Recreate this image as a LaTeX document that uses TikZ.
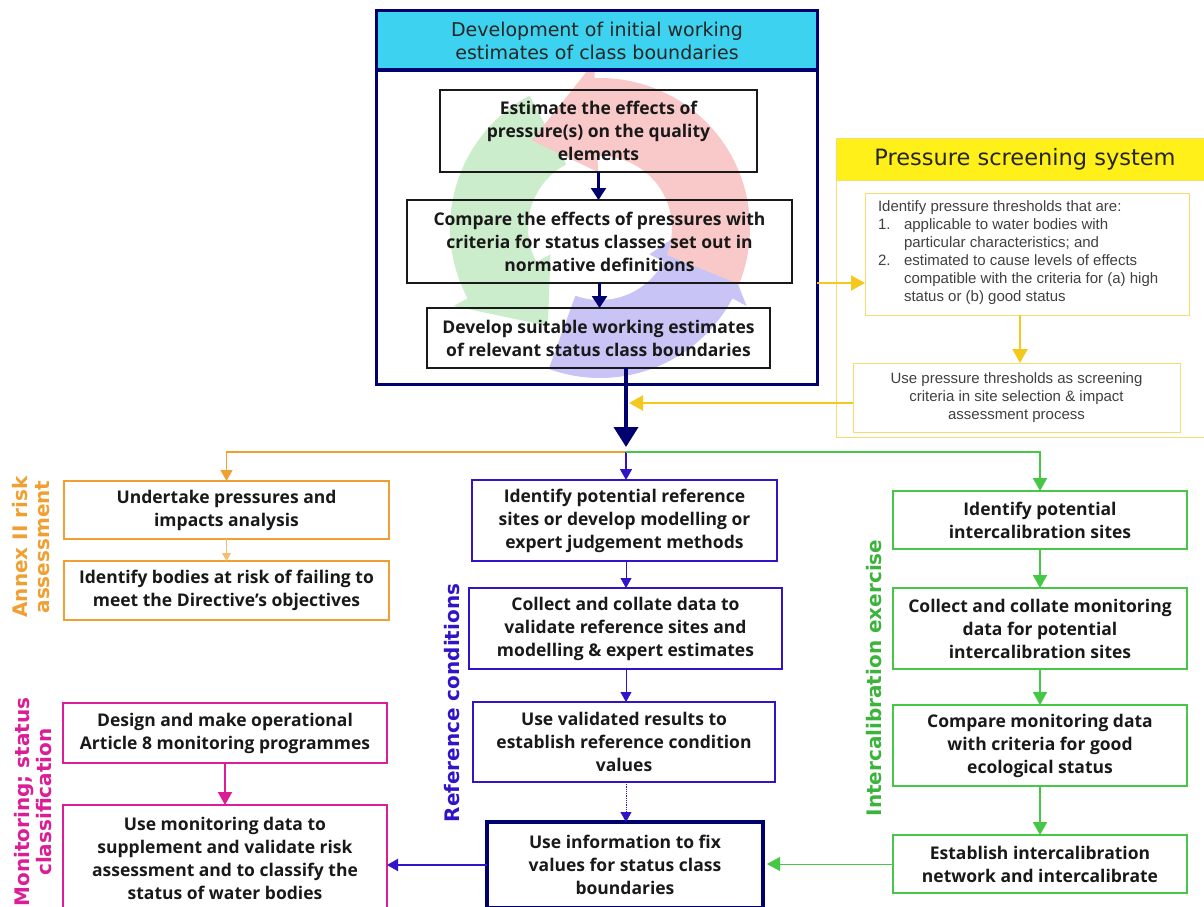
\documentclass[tikz,border=0pt]{standalone}
\usepackage{fontspec}
\setmainfont{Open Sans}
\newfontfamily\verdfont{DejaVu Sans}
\newfontfamily\arfont{Liberation Sans}
\usetikzlibrary{arrows.meta,calc}

\definecolor{navy}{RGB}{0,0,110}
\definecolor{hdrcyan}{RGB}{60,210,240}
\definecolor{hdryellow}{RGB}{255,240,25}
\definecolor{ylight}{RGB}{245,220,110}
\definecolor{yarrowc}{RGB}{245,200,30}
\definecolor{annexc}{RGB}{240,160,50}
\definecolor{refc}{RGB}{50,20,200}
\definecolor{greenc}{RGB}{70,200,70}
\definecolor{greenlab}{RGB}{60,180,60}
\definecolor{magc}{RGB}{220,30,150}
\definecolor{ringred}{RGB}{249,200,200}
\definecolor{ringgreen}{RGB}{204,237,204}
\definecolor{ringpurple}{RGB}{200,196,246}

% box given by its corners: style, name, x1, y1, x2, y2, text
\newcommand\rbox[7]{\node[#1, minimum width={(#5-#3)*1pt}, minimum height={(#6-#4)*1pt}] (#2) at ({(#3+#5)/2},{(#4+#6)/2}) {#7};}

% one arrow of the background cycle: colour, tail angle, head base angle, tip angle
\newcommand\ringarrow[4]{%
  \fill[#1] plot[domain=#2:#3, samples=40] ({600+150*cos(\x)},{228+150*sin(\x)})
    -- ({600+166*cos(#3)},{228+166*sin(#3)})
    -- ({600+111*cos(#4)},{228+111*sin(#4)})
    -- ({600+56*cos(#3)},{228+56*sin(#3)})
    -- plot[domain=#3:#2, samples=40] ({600+72*cos(\x)},{228+72*sin(\x)}) -- cycle;}

\begin{document}
\begin{tikzpicture}[x=1pt,y=-1pt,
  every node/.style={inner sep=0pt, outer sep=0pt},
  btext/.style={align=center, font=\fontsize{17.5}{23}\selectfont\bfseries, text=black!90},
  innerbox/.style={btext, draw=black!90, line width=2.2pt},
  annexbox/.style={btext, draw=annexc, line width=2pt},
  refbox/.style={btext, draw=refc, line width=2pt},
  greenbox/.style={btext, draw=greenc, line width=2pt},
  magbox/.style={btext, draw=magc, line width=2pt},
  finalbox/.style={btext, draw=navy, line width=4pt},
  ybox/.style={draw=ylight, line width=1pt},
  stext/.style={font=\arfont\fontsize{15}{18}\selectfont, text=black!75},
  sidelabel/.style={align=center, rotate=90, font=\verdfont\fontsize{20}{22}\selectfont\bfseries},
  navyarrow/.style={draw=navy, line width=2.4pt, -{Triangle[width=15pt,length=12pt]}},
  bignavy/.style={draw=navy, line width=4pt, -{Triangle[width=24pt,length=20pt]}},
  yarrow/.style={draw=yarrowc, line width=2pt, -{Triangle[width=15pt,length=14pt]}},
  annexarrow/.style={draw=annexc, line width=1.6pt, -{Triangle[width=12pt,length=11pt]}},
  thinannex/.style={draw=annexc!70, line width=1pt, -{Triangle[width=9pt,length=8pt]}},
  refarrow/.style={draw=refc, line width=1.6pt, -{Triangle[width=12pt,length=11pt]}},
  thinref/.style={draw=refc, line width=0.8pt, -{Triangle[width=11pt,length=10pt]}},
  greenarrow/.style={draw=greenc, line width=2pt, -{Triangle[width=14pt,length=13pt]}},
  magarrow/.style={draw=magc, line width=2pt, -{Triangle[width=14pt,length=13pt]}},
]
\useasboundingbox (0,0) rectangle (1204,907);

% background cycle behind the estimation steps
\ringarrow{ringpurple}{110}{28}{-8}
\ringarrow{ringgreen}{242}{152}{118}
\ringarrow{ringred}{22}{-92}{-128}

% development of working estimates
\rbox{fill=hdrcyan, draw=navy, line width=3pt}{mainhdr}{376}{11}{817}{70}{}
\rbox{draw=navy, line width=3pt}{main}{376}{11}{817}{384}{}
\node[align=center, font=\verdfont\fontsize{19}{23.5}\selectfont, text=black!85] (maintitle) at (597,41)
  {Development of initial working\\estimates of class boundaries};
\rbox{innerbox}{b1}{440}{90}{757}{172}{Estimate the effects of\\pressure(s) on the quality\\elements}
\rbox{innerbox}{b2}{407}{200}{792}{283}{Compare the effects of pressures with\\criteria for status classes set out in\\normative definitions}
\rbox{innerbox}{b3}{427}{308}{770}{368}{Develop suitable working estimates\\of relevant status class boundaries}
\draw[navyarrow] (b1.south) -- (b1.south |- b2.north);
\draw[navyarrow] (b2.south) -- (b2.south |- b3.north);

% pressure screening system
\rbox{fill=hdryellow, draw=ylight, line width=1pt}{psyshdr}{836}{138}{1206}{180}{}
\rbox{ybox}{psys}{836}{138}{1206}{437}{}
\node[font=\verdfont\fontsize{22.5}{25}\selectfont, text=black!85] (psystitle) at (1025,159) {Pressure screening system};
\rbox{ybox}{p1}{865}{193}{1189}{315}{}
\node[stext, anchor=north west, align=left] (p1text) at (878,201)
  {Identify pressure thresholds that are:\\
   \makebox[26pt][l]{1.}applicable to water bodies with\\
   \hspace*{26pt}particular characteristics; and\\
   \makebox[26pt][l]{2.}estimated to cause levels of effects\\
   \hspace*{26pt}compatible with the criteria for (a) high\\
   \hspace*{26pt}status or (b) good status};
\rbox{ybox, stext, align=center}{p2}{853}{363}{1180}{432}
  {Use pressure thresholds as screening\\criteria in site selection \& impact\\assessment process}
\coordinate (ya) at (0,283);
\coordinate (yb) at (0,403);
\coordinate (pcol) at (1020,0);
\draw[yarrow] (main.east |- ya) -- (p1.west |- ya);
\draw[yarrow] (pcol |- p1.south) -- (pcol |- p2.north);

% hand-over to the three work streams
\coordinate (split) at (626,452);
\coordinate (navyend) at (626,447);
\draw[bignavy] (b3.south -| split) -- (navyend);
\draw[yarrow, shorten >=3pt] (p2.west |- yb) -- (split |- yb);

% Annex II risk assessment
\rbox{annexbox}{a1}{64}{481}{389}{539}{Undertake pressures and\\impacts analysis}
\rbox{annexbox}{a2}{64}{561}{389}{620}{Identify bodies at risk of failing to\\meet the Directive’s objectives}
\draw[annexarrow] (split) -| (a1.north);
\draw[thinannex] (a1.south) -- (a2.north);
\node[sidelabel, text=annexc] (lannex) at (31,547) {Annex II risk\\assessment};

% monitoring and status classification
\rbox{magbox}{m1}{63}{703}{387}{763}{Design and make operational\\Article 8 monitoring programmes}
\rbox{magbox}{m2}{63}{805}{387}{912}{Use monitoring data to\\supplement and validate risk\\assessment and to classify the\\status of water bodies}
\draw[magarrow] (m1.south) -- (m2.north);
\node[sidelabel, text=magc] (lmon) at (33,802) {Monitoring; status\\classification};

% reference conditions
\rbox{refbox}{r1}{472}{480}{777}{561}{Identify potential reference\\sites or develop modelling or\\expert judgement methods}
\rbox{refbox}{r2}{469}{588}{782}{669}{Collect and collate data to\\validate reference sites and\\modelling \& expert estimates}
\rbox{refbox}{r3}{473}{702}{775}{782}{Use validated results to\\establish reference condition\\values}
\rbox{finalbox}{fin}{487}{822}{763}{908}{Use information to fix\\values for status class\\boundaries}
\draw[refarrow] (split) -- (split |- r1.north);
\draw[thinref] (split |- r1.south) -- (split |- r2.north);
\draw[thinref] (split |- r2.south) -- (split |- r3.north);
\draw[thinref, densely dotted, -{Triangle[width=11pt,length=10pt]}] (split |- r3.south) -- (split |- fin.north);
\draw[refarrow, line width=2pt] (fin.west) -- (m2.east |- fin.west);
\node[sidelabel, text=refc] (lref) at (452,703) {Reference conditions};

% intercalibration exercise
\rbox{greenbox}{i1}{893}{491}{1187}{549}{Identify potential\\intercalibration sites}
\rbox{greenbox}{i2}{893}{588}{1187}{669}{Collect and collate monitoring\\data for potential\\intercalibration sites}
\rbox{greenbox}{i3}{893}{705}{1187}{786}{Compare monitoring data\\with criteria for good\\ecological status}
\rbox{greenbox}{i4}{893}{835}{1187}{893}{Establish intercalibration\\network and intercalibrate}
\draw[greenarrow, line width=1.6pt] (split) -| (i1.north);
\draw[greenarrow] (i1.south) -- (i2.north);
\draw[greenarrow] (i2.south) -- (i3.north);
\draw[greenarrow] (i3.south) -- (i4.north);
\draw[greenarrow, line width=0.8pt, shorten >=4pt] (i4.west) -- (fin.east |- i4.west);
\node[sidelabel, text=greenlab] (lint) at (874,678) {Intercalibration exercise};
\end{tikzpicture}
\end{document}
